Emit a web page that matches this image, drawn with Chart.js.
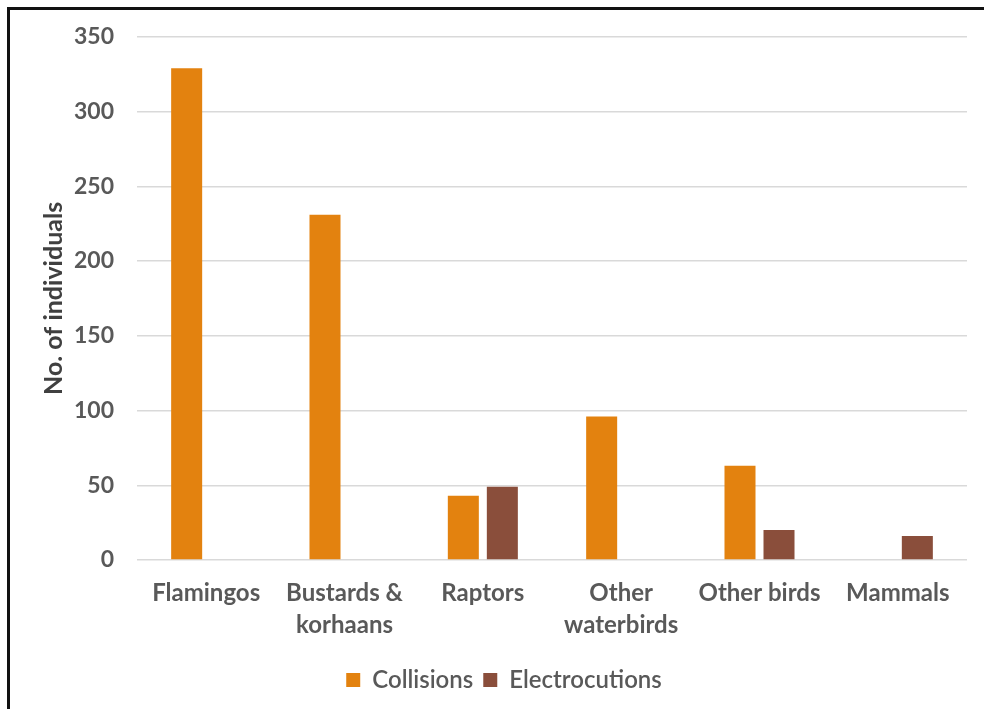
<!DOCTYPE html>
<html>
<head>
<meta charset="utf-8">
<script src="https://cdn.jsdelivr.net/npm/chart.js@4.4.0/dist/chart.umd.min.js"></script>
<style>
  html, body { margin: 0; padding: 0; background: #fff; overflow: hidden; }
  #wrap { position: absolute; left: 0; top: 0; width: 984px; height: 709px; }
  #frame { position: absolute; left: 7px; top: 7px; width: 1000px; height: 740px; border: 3px solid #111; box-sizing: border-box; }
</style>
</head>
<body>
<div id="frame"></div>
<div id="wrap"><canvas id="birdChart" width="984" height="709"></canvas></div>
<script>
const categories = ['Flamingos', ['Bustards &', 'korhaans'], 'Raptors', ['Other', 'waterbirds'], 'Other birds', 'Mammals'];
const collisions = [329, 231, 43, 96, 63, 0];
const electrocutions = [0, 0, 49, 0, 20, 16];
const yTicks = [0, 50, 100, 150, 200, 250, 300, 350];

const ctx = document.getElementById('birdChart');
new Chart(ctx, {
    type: 'bar',
    data: {
        labels: categories,
        datasets: [
            {
                label: 'Collisions',
                data: collisions,
                backgroundColor: '#E3820F',
                categoryPercentage: 0.564,
                barPercentage: 0.795
            },
            {
                label: 'Electrocutions',
                data: electrocutions,
                backgroundColor: '#8A4E3B',
                categoryPercentage: 0.564,
                barPercentage: 0.795
            }
        ]
    },
    options: {
        responsive: false,
        animation: false,
        layout: {
            padding: { left: 41, right: 17, top: 23, bottom: 7 }
        },
        scales: {
            x: {
                grid: { display: false },
                border: { display: false },
                ticks: {
                    color: '#595959',
                    font: { family: 'Lato', size: 24, weight: 'bold', lineHeight: 1.35 },
                    padding: 9,
                    maxRotation: 0,
                    autoSkip: false
                },
                afterFit: (scale) => { scale.height = 98; }
            },
            y: {
                min: 0,
                max: 350,
                afterBuildTicks: (scale) => { scale.ticks = yTicks.map(v => ({ value: v })); },
                grid: { color: '#D9D9D9', lineWidth: 1.5, drawTicks: false },
                border: { display: false },
                ticks: {
                    color: '#595959',
                    font: { family: 'Lato', size: 23, weight: 'bold' },
                    padding: 23
                },
                title: {
                    display: true,
                    text: 'No. of individuals',
                    color: '#404040',
                    font: { family: 'Lato', size: 25, weight: 'bold', lineHeight: 1.0 },
                    padding: 0
                },
                afterFit: (scale) => { scale.width = 96; }
            }
        },
        plugins: {
            legend: {
                position: 'bottom',
                labels: {
                    color: '#595959',
                    font: { family: 'Lato', size: 24, weight: '600' },
                    boxWidth: 14,
                    boxHeight: 14,
                    padding: 10
                }
            },
            tooltip: { enabled: false }
        }
    }
});
</script>
</body>
</html>
